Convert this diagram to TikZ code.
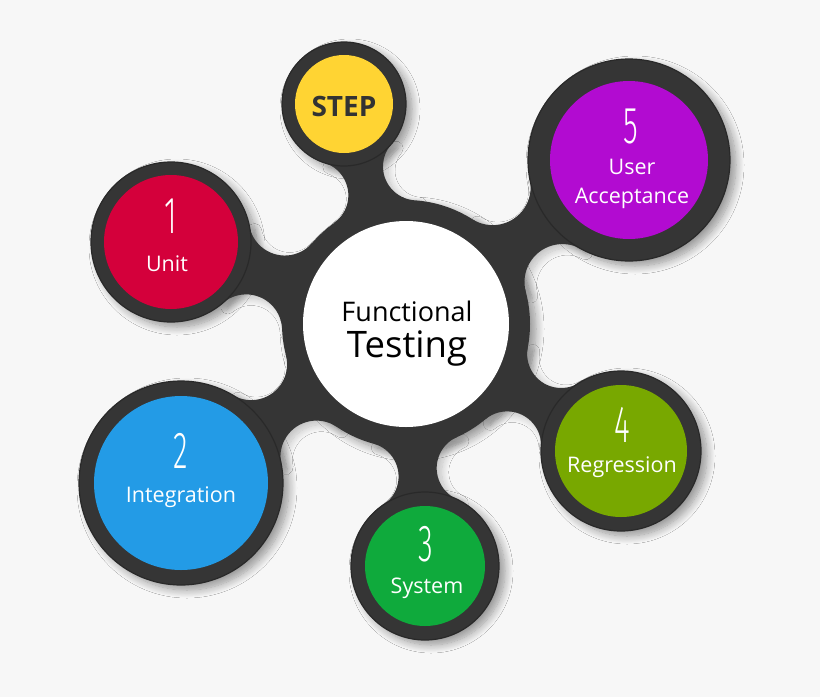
\documentclass[tikz,border=0pt]{standalone}
\usepackage{fontspec}
\usepackage{graphicx}
\setmainfont{Open Sans}
\IfFontExistsTF{Fira Sans Light}
  {\newfontfamily\digitfont[FakeStretch=0.58]{Fira Sans Light}}
  {\newfontfamily\digitfont[FakeStretch=0.55]{Open Sans}}
\usetikzlibrary{shadows.blur}
\definecolor{bg}{HTML}{F7F7F7}
\definecolor{ring}{HTML}{353535}
\definecolor{ringedge}{HTML}{292929}
\definecolor{cyellow}{HTML}{FFD433}
\definecolor{cred}{HTML}{D4003B}
\definecolor{cblue}{HTML}{239BE6}
\definecolor{cgreen}{HTML}{0FAA3C}
\definecolor{colive}{HTML}{78A800}
\definecolor{cpurple}{HTML}{B20BD1}
\definecolor{steptext}{HTML}{333333}
% neck between circle (#2,#3) radius #4 and circle (#5,#6) radius #7, fillet radius #8, path style #1
\newcommand\necklink[8][fill=ring]{%
 \pgfmathsetmacro\nkdx{#5-#2}%
 \pgfmathsetmacro\nkdy{#6-#3}%
 \pgfmathsetmacro\nkd{sqrt(\nkdx*\nkdx+\nkdy*\nkdy)}%
 \pgfmathsetmacro\nkphi{atan2(\nkdy,\nkdx)}%
 \pgfmathsetmacro\nka{#4+#8}%
 \pgfmathsetmacro\nkb{#7+#8}%
 \pgfmathsetmacro\nkal{acos((\nka*\nka+\nkd*\nkd-\nkb*\nkb)/(2*\nka*\nkd))}%
 \pgfmathsetmacro\nkta{\nkphi+\nkal}%
 \pgfmathsetmacro\nkfax{#2+\nka*cos(\nkta)}%
 \pgfmathsetmacro\nkfay{#3+\nka*sin(\nkta)}%
 \pgfmathsetmacro\nkpa{atan2(\nkfay-#6,\nkfax-#5)}%
 \pgfmathsetmacro\nkda{mod(\nkpa-\nkta+540,360)-180}%
 \pgfmathsetmacro\nksa{\nkta+180}%
 \pgfmathsetmacro\nktb{\nkphi-\nkal}%
 \pgfmathsetmacro\nkfbx{#2+\nka*cos(\nktb)}%
 \pgfmathsetmacro\nkfby{#3+\nka*sin(\nktb)}%
 \pgfmathsetmacro\nkpb{atan2(\nkfby-#6,\nkfbx-#5)}%
 \pgfmathsetmacro\nkdb{mod(\nktb-\nkpb+540,360)-180}%
 \pgfmathsetmacro\nksb{\nkpb+180}%
 \path[#1] ({#2+#4*cos(\nkta)},{#3+#4*sin(\nkta)})
   arc[start angle=\nksa, delta angle=\nkda, radius=#8]
   -- ({#5+#7*cos(\nkpb)},{#6+#7*sin(\nkpb)})
   arc[start angle=\nksb, delta angle=\nkdb, radius=#8]
   -- cycle;
}
\newcommand\allnecks[1]{%
\necklink[#1]{40.6}{32.4}{12.4}{34.4}{10.4}{6.2}{3.4}
\necklink[#1]{40.6}{32.4}{12.4}{17.1}{24.2}{8.0}{3.6}
\necklink[#1]{40.6}{32.4}{12.4}{18.1}{48.3}{10.2}{3.6}
\necklink[#1]{40.6}{32.4}{12.4}{42.5}{56.6}{7.4}{3.4}
\necklink[#1]{40.6}{32.4}{12.4}{62.1}{45.1}{8.0}{3.4}
\necklink[#1]{40.6}{32.4}{12.4}{62.9}{16.0}{10.1}{3.8}
}
\begin{document}
\begin{tikzpicture}[x=10pt,y=-10pt,
  shad/.style={blur shadow={shadow xshift=6pt, shadow yshift=-5pt, shadow blur radius=8pt, shadow blur steps=12}},
  nshad/.style={blur shadow={shadow xshift=5pt, shadow yshift=-4pt, shadow blur radius=7pt, shadow blur steps=12, shadow opacity=22}},
  sat/.style={fill=ring, draw=ringedge, line width=1.2pt},
  digit/.style={text=white, font=\digitfont\fontsize{52}{52}\selectfont, anchor=base, inner sep=0pt},
  lbl/.style={text=white, font=\fontsize{21.5}{24}\selectfont, anchor=base, inner sep=0pt},
  ctext/.style={text=black, anchor=base, inner sep=0pt}]
\fill[bg] (0,0) rectangle (82,69.7);
\useasboundingbox (0,0) rectangle (82,69.7);
% shadows
\path[shad] (40.6,32.4) circle[radius=12.4];
\allnecks{nshad}
\path[shad] (34.4,10.4) circle[radius=6.2];
\path[shad] (17.1,24.2) circle[radius=8.0];
\path[shad] (18.1,48.3) circle[radius=10.2];
\path[shad] (42.5,56.6) circle[radius=7.4];
\path[shad] (62.1,45.1) circle[radius=8.0];
\path[shad] (62.9,16.0) circle[radius=10.1];
% necks
\allnecks{fill=ring}
% dark rings
\fill[ring] (40.6,32.4) circle[radius=12.4];
\path[sat] (34.4,10.4) circle[radius=6.2];
\path[sat] (17.1,24.2) circle[radius=8.0];
\path[sat] (18.1,48.3) circle[radius=10.2];
\path[sat] (42.5,56.6) circle[radius=7.4];
\path[sat] (62.1,45.1) circle[radius=8.0];
\path[sat] (62.9,16.0) circle[radius=10.1];
% inner discs
\fill[white] (40.6,32.4) circle[radius=10.3];
\fill[cyellow] (34.4,10.4) circle[radius=4.9];
\fill[cred] (17.1,24.2) circle[radius=6.7];
\fill[cblue] (18.1,48.3) circle[radius=8.7];
\fill[cgreen] (42.5,56.6) circle[radius=6.0];
\fill[colive] (62.1,45.1) circle[radius=6.6];
\fill[cpurple] (62.9,16.0) circle[radius=7.9];
% texts
\node[ctext, font=\fontsize{27}{30}\selectfont] (func) at (40.7,32.1) {Functional};
\node[ctext, font=\fontsize{36.5}{40}\selectfont] (test) at (40.7,35.7) {Testing};
\node[anchor=base, inner sep=0pt, text=steptext, font=\bfseries\fontsize{28}{30}\selectfont] (step) at (34.4,11.6) {STEP};
\node[digit] (d1) at (17.1,23.3) {1};
\node[lbl] (l1) at (16.7,27.1) {Unit};
\node[digit] (d2) at (18.1,46.8) {2};
\node[lbl] (l2) at (18.1,50.2) {Integration};
\node[digit] (d3) at (42.6,56.1) {3};
\node[lbl] (l3) at (42.7,59.3) {System};
\node[digit] (d4) at (62.2,44.2) {4};
\node[lbl] (l4) at (62.2,47.2) {Regression};
\node[digit] (d5) at (63.1,14.3) {5};
\node[lbl] (l5a) at (63.2,17.4) {User};
\node[lbl] (l5b) at (63.2,20.3) {Acceptance};
\end{tikzpicture}
\end{document}
